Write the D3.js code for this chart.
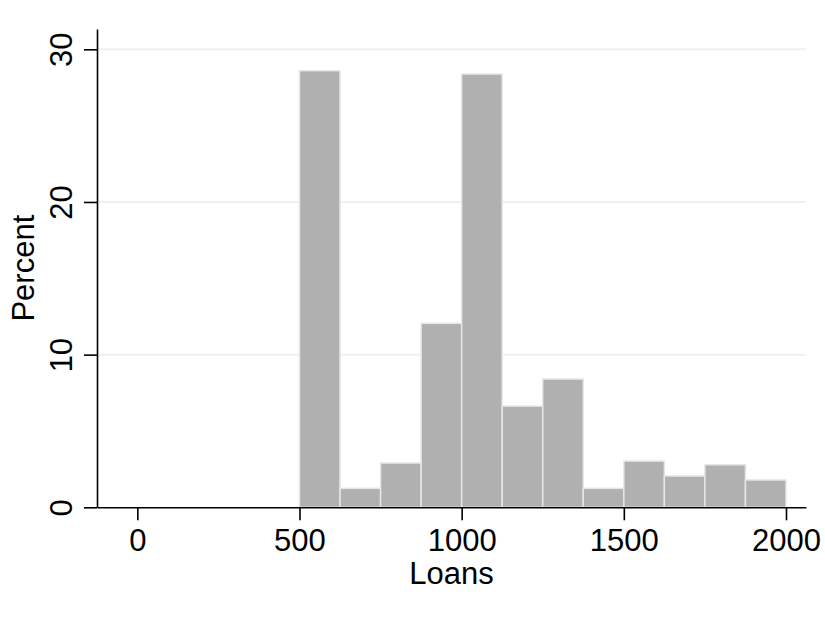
<!DOCTYPE html>
<html>
<head>
<meta charset="utf-8">
<script src="https://cdn.jsdelivr.net/npm/d3@7"></script>
<style>
  html, body { margin: 0; padding: 0; background: #fff; }
  svg { display: block; }
  text { font-family: "Liberation Sans", Arial, Helvetica, sans-serif; fill: #000; }
</style>
</head>
<body>
<svg id="chart" width="825" height="620"></svg>
<script>
// Histogram of loan amounts: bin edges (width 125) and percent of observations per bin
const binStarts = [500, 625, 750, 875, 1000, 1125, 1250, 1375, 1500, 1625, 1750, 1875];
const binWidth = 125;
const percents = [28.6, 1.24, 2.9, 12.05, 28.38, 6.63, 8.4, 1.24, 3.03, 2.05, 2.79, 1.79];
const xTicks = [0, 500, 1000, 1500, 2000];
const yTicks = [0, 10, 20, 30];
const xTitle = "Loans";
const yTitle = "Percent";

const svg = d3.select("#chart");
const plotLeft = 97, plotRight = 806, plotTop = 29, plotBottom = 507.3;

const x = d3.scaleLinear().domain([-124.3, 2061.7]).range([plotLeft, plotRight]);
const y = d3.scaleLinear().domain([0, 31.33]).range([plotBottom, plotTop]);

// horizontal gridlines
svg.append("g")
  .selectAll("line")
  .data(yTicks.filter(d => d > 0))
  .join("line")
  .attr("x1", plotLeft).attr("x2", plotRight)
  .attr("y1", d => y(d)).attr("y2", d => y(d))
  .attr("stroke", "#eaf2f3")
  .attr("stroke-width", 2);

// bars
svg.append("g")
  .selectAll("rect")
  .data(binStarts.map((s, i) => ({ s, v: percents[i] })))
  .join("rect")
  .attr("x", d => x(d.s))
  .attr("width", d => x(d.s + binWidth) - x(d.s))
  .attr("y", d => y(d.v))
  .attr("height", d => y(0) - y(d.v))
  .attr("fill", "#b0b0b0")
  .attr("stroke", "#e6e6e6")
  .attr("stroke-width", 1.5);

const fontSize = 31;

// x axis
const xAxis = svg.append("g")
  .attr("transform", `translate(0,${plotBottom})`)
  .call(d3.axisBottom(x).tickValues(xTicks).tickSize(13).tickSizeOuter(0).tickFormat(d3.format("d")));
xAxis.select(".domain").attr("stroke", "#000").attr("stroke-width", 1.6);
xAxis.selectAll(".tick line").attr("stroke", "#000").attr("stroke-width", 1.6);
xAxis.selectAll(".tick text")
  .attr("font-size", fontSize)
  .attr("font-family", "Liberation Sans, Arial, sans-serif")
  .attr("fill", "#000")
  .attr("dy", null)
  .attr("y", 44);

// y axis
const yAxis = svg.append("g")
  .attr("transform", `translate(${plotLeft},0)`)
  .call(d3.axisLeft(y).tickValues(yTicks).tickSize(13).tickSizeOuter(0).tickFormat(d3.format("d")));
yAxis.select(".domain").attr("stroke", "#000").attr("stroke-width", 1.6);
yAxis.selectAll(".tick line").attr("stroke", "#000").attr("stroke-width", 1.6);
yAxis.selectAll(".tick text")
  .attr("font-size", fontSize)
  .attr("font-family", "Liberation Sans, Arial, sans-serif")
  .attr("fill", "#000")
  .attr("x", null).attr("dy", null)
  .attr("text-anchor", "middle")
  .attr("transform", "translate(-25.5,0) rotate(-90)");

// axis titles
svg.append("text")
  .attr("x", (plotLeft + plotRight) / 2)
  .attr("y", 583.5)
  .attr("text-anchor", "middle")
  .attr("font-size", fontSize)
  .text(xTitle);

svg.append("text")
  .attr("transform", `translate(33.5,${(plotTop + plotBottom) / 2}) rotate(-90)`)
  .attr("text-anchor", "middle")
  .attr("font-size", fontSize)
  .text(yTitle);
</script>
</body>
</html>
